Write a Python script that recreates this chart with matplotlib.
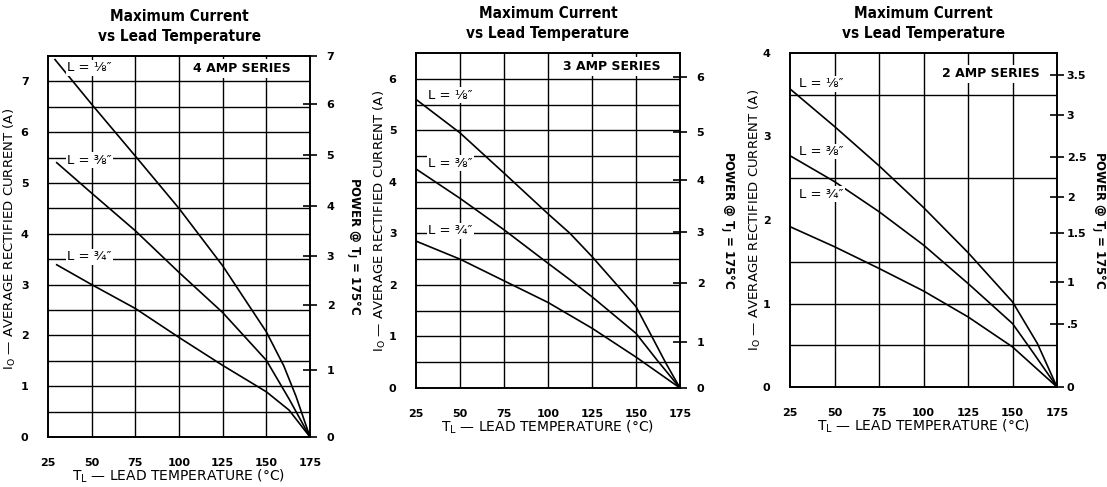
import matplotlib
matplotlib.use("Agg")
import matplotlib.pyplot as plt

plt.rcParams['font.family'] = ['DejaVu Sans']
plt.rcParams['mathtext.fontset'] = 'dejavusans'

# ---------------- data ----------------
title_text = "Maximum Current\nvs Lead Temperature"
x_ticks = [25, 50, 75, 100, 125, 150, 175]
lead_labels = ["L = ⅛″", "L = ⅜″", "L = ¾″"]

# 4 AMP SERIES
a4_name = "4 AMP SERIES"
a4_t_18 = [29, 50, 75, 100, 125, 150, 160, 167, 175]
a4_i_18 = [7.43, 6.55, 5.53, 4.50, 3.37, 2.07, 1.40, 0.80, 0]
a4_t_38 = [30, 50, 75, 100, 125, 150, 163, 175]
a4_i_38 = [5.40, 4.80, 4.06, 3.24, 2.45, 1.51, 0.75, 0]
a4_t_34 = [30, 50, 75, 100, 125, 150, 163, 175]
a4_i_34 = [3.39, 3.00, 2.53, 1.96, 1.41, 0.89, 0.53, 0]
a4_left_ticks = [0, 1, 2, 3, 4, 5, 6, 7]
a4_hgrid = [0.5, 1, 1.5, 2, 2.5, 3, 3.5, 4, 4.5, 5, 5.5, 6, 6.5, 7]
a4_power_labels = ["0", "1", "2", "3", "4", "5", "6", "7"]
a4_power_at_current = [0, 1.31, 2.59, 3.57, 4.55, 5.55, 6.55, 7.5]

# 3 AMP SERIES
a3_name = "3 AMP SERIES"
a3_t_18 = [25, 50, 75, 100, 112.5, 125, 150, 159, 167, 175]
a3_i_18 = [5.60, 4.95, 4.17, 3.38, 3.00, 2.55, 1.58, 1.00, 0.48, 0]
a3_t_38 = [25, 50, 75, 100, 112.5, 125, 150, 162, 175]
a3_i_38 = [4.25, 3.68, 3.07, 2.42, 2.10, 1.77, 1.06, 0.54, 0]
a3_t_34 = [25, 50, 75, 100, 125, 150, 175]
a3_i_34 = [2.85, 2.50, 2.08, 1.66, 1.16, 0.60, 0]
a3_left_ticks = [0, 1, 2, 3, 4, 5, 6]
a3_hgrid = [0.5, 1, 1.5, 2, 2.5, 3, 3.5, 4, 4.5, 5, 5.5, 6]
a3_power_labels = ["0", "1", "2", "3", "4", "5", "6"]
a3_power_at_current = [0, 0.89, 2.04, 3.03, 4.04, 4.97, 6.04]

# 2 AMP SERIES
a2_name = "2 AMP SERIES"
a2_t_18 = [25, 50, 75, 100, 125, 150, 164, 175]
a2_i_18 = [3.57, 3.12, 2.65, 2.15, 1.61, 1.02, 0.52, 0]
a2_t_38 = [25, 50, 75, 100, 125, 150, 162, 175]
a2_i_38 = [2.77, 2.46, 2.10, 1.70, 1.24, 0.76, 0.40, 0]
a2_t_34 = [25, 50, 75, 100, 125, 150, 175]
a2_i_34 = [1.92, 1.68, 1.42, 1.15, 0.84, 0.48, 0]
a2_left_ticks = [0, 1, 2, 3, 4]
a2_hgrid = [0.5, 1, 1.5, 2.5, 3.5]
a2_power_labels = ["0", ".5", "1", "1.5", "2", "2.5", "3", "3.5"]
a2_power_at_current = [0, 0.76, 1.26, 1.85, 2.27, 2.76, 3.26, 3.74]

# ---------------- layout ----------------
W, H = 1107, 487
fig = plt.figure(figsize=(W / 100, H / 100), dpi=100)

def rect(l, r, t, b):
    return [l / W, 1 - b / H, (r - l) / W, (b - t) / H]

panels = [
    dict(rect=rect(48, 310, 56, 437), ytop=7.5, name=a4_name,
         series=[(a4_t_18, a4_i_18), (a4_t_38, a4_i_38), (a4_t_34, a4_i_34)],
         lticks=a4_left_ticks, hgrid=a4_hgrid,
         plabels=a4_power_labels, ppos=a4_power_at_current,
         lab_pos=[(36, 7.27), (36, 5.45), (36, 3.55)], name_pos=(136, 7.25),
         ylab_x=-0.145, ylab_y=0.52, y2lab_x=1.164, rpad=7),
    dict(rect=rect(416, 680, 53, 388), ytop=6.5, name=a3_name,
         series=[(a3_t_18, a3_i_18), (a3_t_38, a3_i_38), (a3_t_34, a3_i_34)],
         lticks=a3_left_ticks, hgrid=a3_hgrid,
         plabels=a3_power_labels, ppos=a3_power_at_current,
         lab_pos=[(32, 5.68), (32, 4.36), (32, 3.05)], name_pos=(136, 6.24),
         ylab_x=-0.138, ylab_y=0.5, y2lab_x=1.178, rpad=7),
    dict(rect=rect(790, 1057, 53, 387), ytop=4.0, name=a2_name,
         series=[(a2_t_18, a2_i_18), (a2_t_38, a2_i_38), (a2_t_34, a2_i_34)],
         lticks=a2_left_ticks, hgrid=a2_hgrid,
         plabels=a2_power_labels, ppos=a2_power_at_current,
         lab_pos=[(30, 3.63), (30, 2.82), (30, 2.31)], name_pos=(138, 3.75),
         ylab_x=-0.13, ylab_y=0.5, y2lab_x=1.152, rpad=2),
]

tick_font = dict(fontsize=8, fontweight='bold')

for p in panels:
    ax = fig.add_axes(p['rect'])
    ax.set_xlim(25, 175)
    ax.set_ylim(0, p['ytop'])
    for s in ax.spines.values():
        s.set_linewidth(1.4)
        s.set_color('black')
    # grid
    for gx in x_ticks[1:-1]:
        ax.axvline(gx, color='black', lw=1.0, zorder=1)
    for gy in p['hgrid']:
        ax.axhline(gy, color='black', lw=1.0, zorder=1)
    # curves
    for (t, i) in p['series']:
        ax.plot(t, i, color='black', lw=1.2, zorder=3, clip_on=True,
                solid_joinstyle='round')
    # labels
    for lab, (lx, ly) in zip(lead_labels, p['lab_pos']):
        ax.text(lx, ly, lab, fontsize=9.5, ha='left', va='center', zorder=4,
                bbox=dict(facecolor='white', edgecolor='none', pad=1.0))
    ax.text(p['name_pos'][0], p['name_pos'][1], p['name'], fontsize=9,
            fontweight='bold', ha='center', va='center', zorder=4,
            bbox=dict(facecolor='white', edgecolor='none', pad=2.0))
    # axes ticks
    ax.set_xticks(x_ticks)
    ax.set_xticklabels([str(v) for v in x_ticks], **tick_font)
    ax.set_yticks(p['lticks'])
    ax.set_yticklabels([str(v) for v in p['lticks']], **tick_font)
    ax.tick_params(axis='both', length=0)
    ax.tick_params(axis='x', pad=15)
    ax.tick_params(axis='y', pad=14)
    ax.set_xlabel("T$_\\mathrm{L}$ — LEAD TEMPERATURE (°C)", fontsize=10, labelpad=0)
    ax.set_ylabel("I$_\\mathrm{O}$ — AVERAGE RECTIFIED CURRENT (A)", fontsize=9.5,
                  va='center')
    ax.yaxis.set_label_coords(p['ylab_x'], p['ylab_y'])
    ax.set_title(title_text, fontsize=11, fontweight='bold', pad=11,
                 linespacing=1.4, fontstretch='condensed')
    # power axis
    ax2 = ax.twinx()
    ax2.set_ylim(0, p['ytop'])
    ax2.set_yticks(p['ppos'])
    ax2.set_yticklabels(p['plabels'], **tick_font)
    ax2.tick_params(axis='y', direction='inout', length=10, width=1.2, pad=p['rpad'])
    for s in ax2.spines.values():
        s.set_visible(False)
    ax2.set_ylabel("POWER @ $\\mathbf{T_J}$ = 175°C", fontsize=8.5, fontweight='bold',
                   rotation=-90, va='center')
    ax2.yaxis.set_label_coords(p['y2lab_x'], 0.5)

fig.savefig("out.png", dpi=100, facecolor='white')
